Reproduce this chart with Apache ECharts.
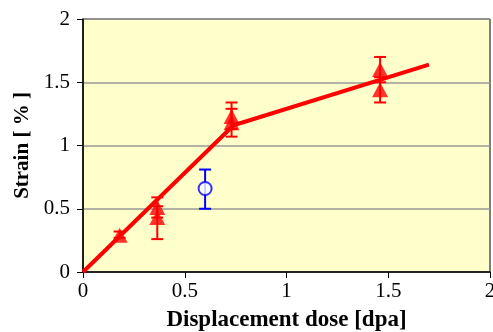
<!DOCTYPE html>
<html>
<head>
<meta charset="utf-8">
<script src="https://cdn.jsdelivr.net/npm/echarts@6/dist/echarts.min.js"></script>
<style>
  html, body { margin: 0; padding: 0; background: #fff; }
  #chart { width: 493px; height: 332px; }
</style>
</head>
<body>
<div id="chart"></div>
<script>
  // red triangles (two readings at some doses)
  const triDose = [0.18, 0.365, 0.365, 0.73, 0.73, 1.46, 1.46]
  const triStrain = [0.29, 0.51, 0.43, 1.23, 1.18, 1.6, 1.44]
  const triLow = [0.27, 0.43, 0.26, 1.13, 1.07, 1.5, 1.34]
  const triHigh = [0.32, 0.59, 0.52, 1.34, 1.29, 1.7, 1.54]

  // blue open circle
  const circDose = [0.6]
  const circStrain = [0.66]
  const circLow = [0.5]
  const circHigh = [0.81]

  // fitted line
  const fitDose = [0, 0.74, 1.7]
  const fitStrain = [0, 1.16, 1.64]

  const xTicks = [0, 0.5, 1, 1.5, 2]
  const yTicks = [0, 0.5, 1, 1.5, 2]

  const font = 'Liberation Serif'

  function errorBars(color) {
    return function (params, api) {
      const x = api.value(0)
      const lo = api.coord([x, api.value(1)])
      const hi = api.coord([x, api.value(2)])
      const w = 6
      const style = { stroke: color, lineWidth: 2 }
      return {
        type: 'group',
        children: [
          { type: 'line', shape: { x1: lo[0], y1: lo[1], x2: hi[0], y2: hi[1] }, style },
          { type: 'line', shape: { x1: lo[0] - w, y1: lo[1], x2: lo[0] + w, y2: lo[1] }, style },
          { type: 'line', shape: { x1: hi[0] - w, y1: hi[1], x2: hi[0] + w, y2: hi[1] }, style },
        ],
      }
    }
  }

  const chart = echarts.init(document.getElementById('chart'))
  chart.setOption({
    animation: false,
    grid: {
      left: 83,
      right: 3,
      top: 19,
      bottom: 60,
      outerBoundsMode: 'none',
      show: true,
      backgroundColor: '#FFFFCC',
      borderColor: '#000',
      borderWidth: 1,
    },
    xAxis: {
      type: 'value',
      min: xTicks[0],
      max: xTicks[xTicks.length - 1],
      interval: xTicks[1] - xTicks[0],
      name: 'Displacement dose [dpa]',
      nameLocation: 'middle',
      nameGap: 37,
      nameTextStyle: { fontFamily: font, fontWeight: 'bold', fontSize: 23, color: '#000' },
      axisLine: { lineStyle: { color: '#000', width: 1.5 } },
      axisTick: { show: true, length: 6, lineStyle: { color: '#000' } },
      axisLabel: { fontFamily: font, fontSize: 21, color: '#000', margin: 9 },
      splitLine: { show: false },
    },
    yAxis: {
      type: 'value',
      min: yTicks[0],
      max: yTicks[yTicks.length - 1],
      interval: yTicks[1] - yTicks[0],
      name: 'Strain [ % ]',
      nameLocation: 'middle',
      nameGap: 48,
      nameTextStyle: { fontFamily: font, fontWeight: 'bold', fontSize: 21, color: '#000' },
      axisLine: { show: true, lineStyle: { color: '#000', width: 1.5 } },
      axisTick: { show: true, length: 6, lineStyle: { color: '#000' } },
      axisLabel: { fontFamily: font, fontSize: 21, color: '#000', margin: 13 },
      splitLine: { show: true, lineStyle: { color: '#999', width: 1.5 } },
    },
    series: [
      {
        type: 'line',
        data: fitDose.map((d, i) => [d, fitStrain[i]]),
        showSymbol: false,
        lineStyle: { color: '#FF0000', width: 4 },
        z: 2,
      },
      {
        type: 'custom',
        renderItem: errorBars('#FF0000'),
        encode: { x: 0, y: [1, 2] },
        data: triDose.map((d, i) => [d, triLow[i], triHigh[i]]),
        z: 3,
      },
      {
        type: 'custom',
        renderItem: errorBars('#0000FF'),
        encode: { x: 0, y: [1, 2] },
        data: circDose.map((d, i) => [d, circLow[i], circHigh[i]]),
        z: 3,
      },
      {
        type: 'scatter',
        symbol: 'triangle',
        symbolSize: [16, 15],
        itemStyle: { color: '#FF0000' },
        data: triDose.map((d, i) => [d, triStrain[i]]),
        z: 4,
      },
      {
        type: 'scatter',
        symbol: 'circle',
        symbolSize: 13,
        itemStyle: { color: '#fff', borderColor: '#0000FF', borderWidth: 2 },
        data: circDose.map((d, i) => [d, circStrain[i]]),
        z: 4,
      },
    ],
  })
</script>
</body>
</html>
